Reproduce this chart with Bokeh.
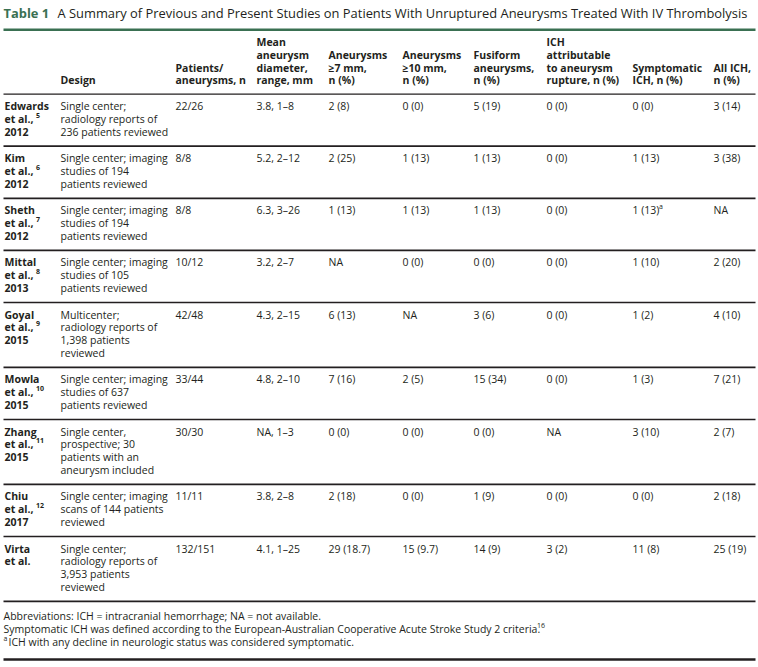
from bokeh.plotting import figure
from bokeh.models import Range1d, ColumnDataSource
from bokeh.core.properties import value
from bokeh.embed import file_html
from bokeh.resources import INLINE

# ---------------- data ----------------
title_label = "Table 1"
title_text = "A Summary of Previous and Present Studies on Patients With Unruptured Aneurysms Treated With IV Thrombolysis"

headers = [
    "",
    "Design",
    "Patients/\naneurysms, n",
    "Mean\naneurysm\ndiameter,\nrange, mm",
    "Aneurysms\n≥7 mm,\nn (%)",
    "Aneurysms\n≥10 mm,\nn (%)",
    "Fusiform\naneurysms,\nn (%)",
    "ICH\nattributable\nto aneurysm\nrupture, n (%)",
    "Symptomatic\nICH, n (%)",
    "All ICH,\nn (%)",
]

study_names = ["Edwards", "Kim", "Sheth", "Mittal", "Goyal", "Mowla", "Zhang", "Chiu", "Virta"]
study_refs = ["5", "6", "7", "8", "9", "10", "11", "12", ""]
study_years = ["2012", "2012", "2012", "2013", "2015", "2015", "2015", "2017", ""]
design = [
    "Single center;\nradiology reports of\n236 patients reviewed",
    "Single center; imaging\nstudies of 194\npatients reviewed",
    "Single center; imaging\nstudies of 194\npatients reviewed",
    "Single center; imaging\nstudies of 105\npatients reviewed",
    "Multicenter;\nradiology reports of\n1,398 patients\nreviewed",
    "Single center; imaging\nstudies of 637\npatients reviewed",
    "Single center,\nprospective; 30\npatients with an\naneurysm included",
    "Single center; imaging\nscans of 144 patients\nreviewed",
    "Single center;\nradiology reports of\n3,953 patients\nreviewed",
]
patients_aneurysms = ["22/26", "8/8", "8/8", "10/12", "42/48", "33/44", "30/30", "11/11", "132/151"]
mean_diameter = ["3.8, 1–8", "5.2, 2–12", "6.3, 3–26", "3.2, 2–7", "4.3, 2–15", "4.8, 2–10", "NA, 1–3", "3.8, 2–8", "4.1, 1–25"]
aneurysms_ge7 = ["2 (8)", "2 (25)", "1 (13)", "NA", "6 (13)", "7 (16)", "0 (0)", "2 (18)", "29 (18.7)"]
aneurysms_ge10 = ["0 (0)", "1 (13)", "1 (13)", "0 (0)", "NA", "2 (5)", "0 (0)", "0 (0)", "15 (9.7)"]
fusiform = ["5 (19)", "1 (13)", "1 (13)", "0 (0)", "3 (6)", "15 (34)", "0 (0)", "1 (9)", "14 (9)"]
ich_rupture = ["0 (0)", "0 (0)", "0 (0)", "0 (0)", "0 (0)", "0 (0)", "NA", "0 (0)", "3 (2)"]
symptomatic_ich = ["0 (0)", "1 (13)", "1 (13)", "1 (10)", "1 (2)", "1 (3)", "3 (10)", "0 (0)", "11 (8)"]
symptomatic_mark = ["", "", "a", "", "", "", "", "", ""]
all_ich = ["3 (14)", "3 (38)", "NA", "2 (20)", "4 (10)", "7 (21)", "2 (7)", "2 (18)", "25 (19)"]

footnotes = [
    ("", "Abbreviations: ICH = intracranial hemorrhage; NA = not available.", ""),
    ("", "Symptomatic ICH was defined according to the European-Australian Cooperative Acute Stroke Study 2 criteria.", "16"),
    ("a", "ICH with any decline in neurologic status was considered symptomatic.", ""),
]

# ---------------- layout / style ----------------
FONT = value("Open Sans")
FS = "10.5px"
SUP_FS = "7px"
TITLE_FS = "12.9px"
TXT = "#231f20"
GREEN = "#3a7052"
col_x = [4, 60, 175, 256, 328, 402, 473, 546, 632, 713]
sup_x_study = 35.5
sup_x_sym = 658.5
sup_x_fn = 536.5
PITCH = 12.8

p = figure(width=758, height=667, x_range=Range1d(0, 758), y_range=Range1d(667, 0),
           output_backend="svg", toolbar_location=None, min_border=0,
           x_axis_type=None, y_axis_type=None)
p.grid.visible = False
p.outline_line_color = None
p.background_fill_color = "white"
p.border_fill_color = "white"

groups = {True: {"x": [], "y": [], "t": [], "color": [], "size": []},
          False: {"x": [], "y": [], "t": [], "color": [], "size": []}}


def add(x, y, t, bold=False, color=TXT, size=FS):
    g = groups[bold]
    g["x"].append(x)
    g["y"].append(y)
    g["t"].append(t)
    g["color"].append(color)
    g["size"].append(size)


# title
add(3, 12.8, title_label, bold=True, color=GREEN, size=TITLE_FS)
add(57, 12.8, title_text, size=TITLE_FS)

# header (bottom aligned)
header_bottom = 79.8
for cx, h in zip(col_x, headers):
    lines = h.split("\n") if h else []
    n = len(lines)
    for i, ln in enumerate(lines):
        add(cx, header_bottom - (n - 1 - i) * PITCH, ln, bold=True)

rules = [(29.3, 2.6, GREEN), (93.6, 1.2, TXT)]

cols = [patients_aneurysms, mean_diameter, aneurysms_ge7, aneurysms_ge10,
        fusiform, ich_rupture, symptomatic_ich, all_ich]

top = 93.6
for r in range(len(study_names)):
    first = top + 12.0
    study_lines = [study_names[r], "et al.," if study_refs[r] else "et al."]
    if study_years[r]:
        study_lines.append(study_years[r])
    for i, ln in enumerate(study_lines):
        add(col_x[0], first + i * PITCH, ln, bold=True)
    if study_refs[r]:
        add(sup_x_study, first + PITCH - 3.6, study_refs[r], bold=True, size=SUP_FS)
    dl = design[r].split("\n")
    for i, ln in enumerate(dl):
        add(col_x[1], first + i * PITCH, ln)
    for c, colvals in enumerate(cols):
        add(col_x[2 + c], first, colvals[r])
    if symptomatic_mark[r]:
        add(sup_x_sym, first - 3.6, symptomatic_mark[r], size=SUP_FS)
    n = max(len(study_lines), len(dl))
    top = top + 26.5 + PITCH * (n - 1)
    rules.append((top, 1.7, TXT))

# footnotes
fy = top + 15.0
for i, (pre, body, post) in enumerate(footnotes):
    y = fy + i * PITCH
    if pre:
        add(3, y - 3.2, pre, size=SUP_FS)
        add(8, y, body)
    else:
        add(3, y, body)
    if post:
        add(sup_x_fn, y - 3.6, post, size=SUP_FS)

rules.append((659.0, 2.6, TXT))

for bold, g in groups.items():
    src = ColumnDataSource(dict(x=g["x"], y=g["y"], t=g["t"], color=g["color"], size=g["size"]))
    p.text(x="x", y="y", text="t", source=src, text_font=FONT,
           text_font_style="bold" if bold else "normal",
           text_font_size="size", text_color="color", text_baseline="middle", text_align="left")

rsrc = ColumnDataSource(dict(y=[r[0] for r in rules], w=[r[1] for r in rules], c=[r[2] for r in rules],
                             x0=[3] * len(rules), x1=[755] * len(rules)))
p.segment(x0="x0", y0="y", x1="x1", y1="y", line_width="w", line_color="c", source=rsrc)

open("out.html", "w").write(file_html(p, INLINE))
